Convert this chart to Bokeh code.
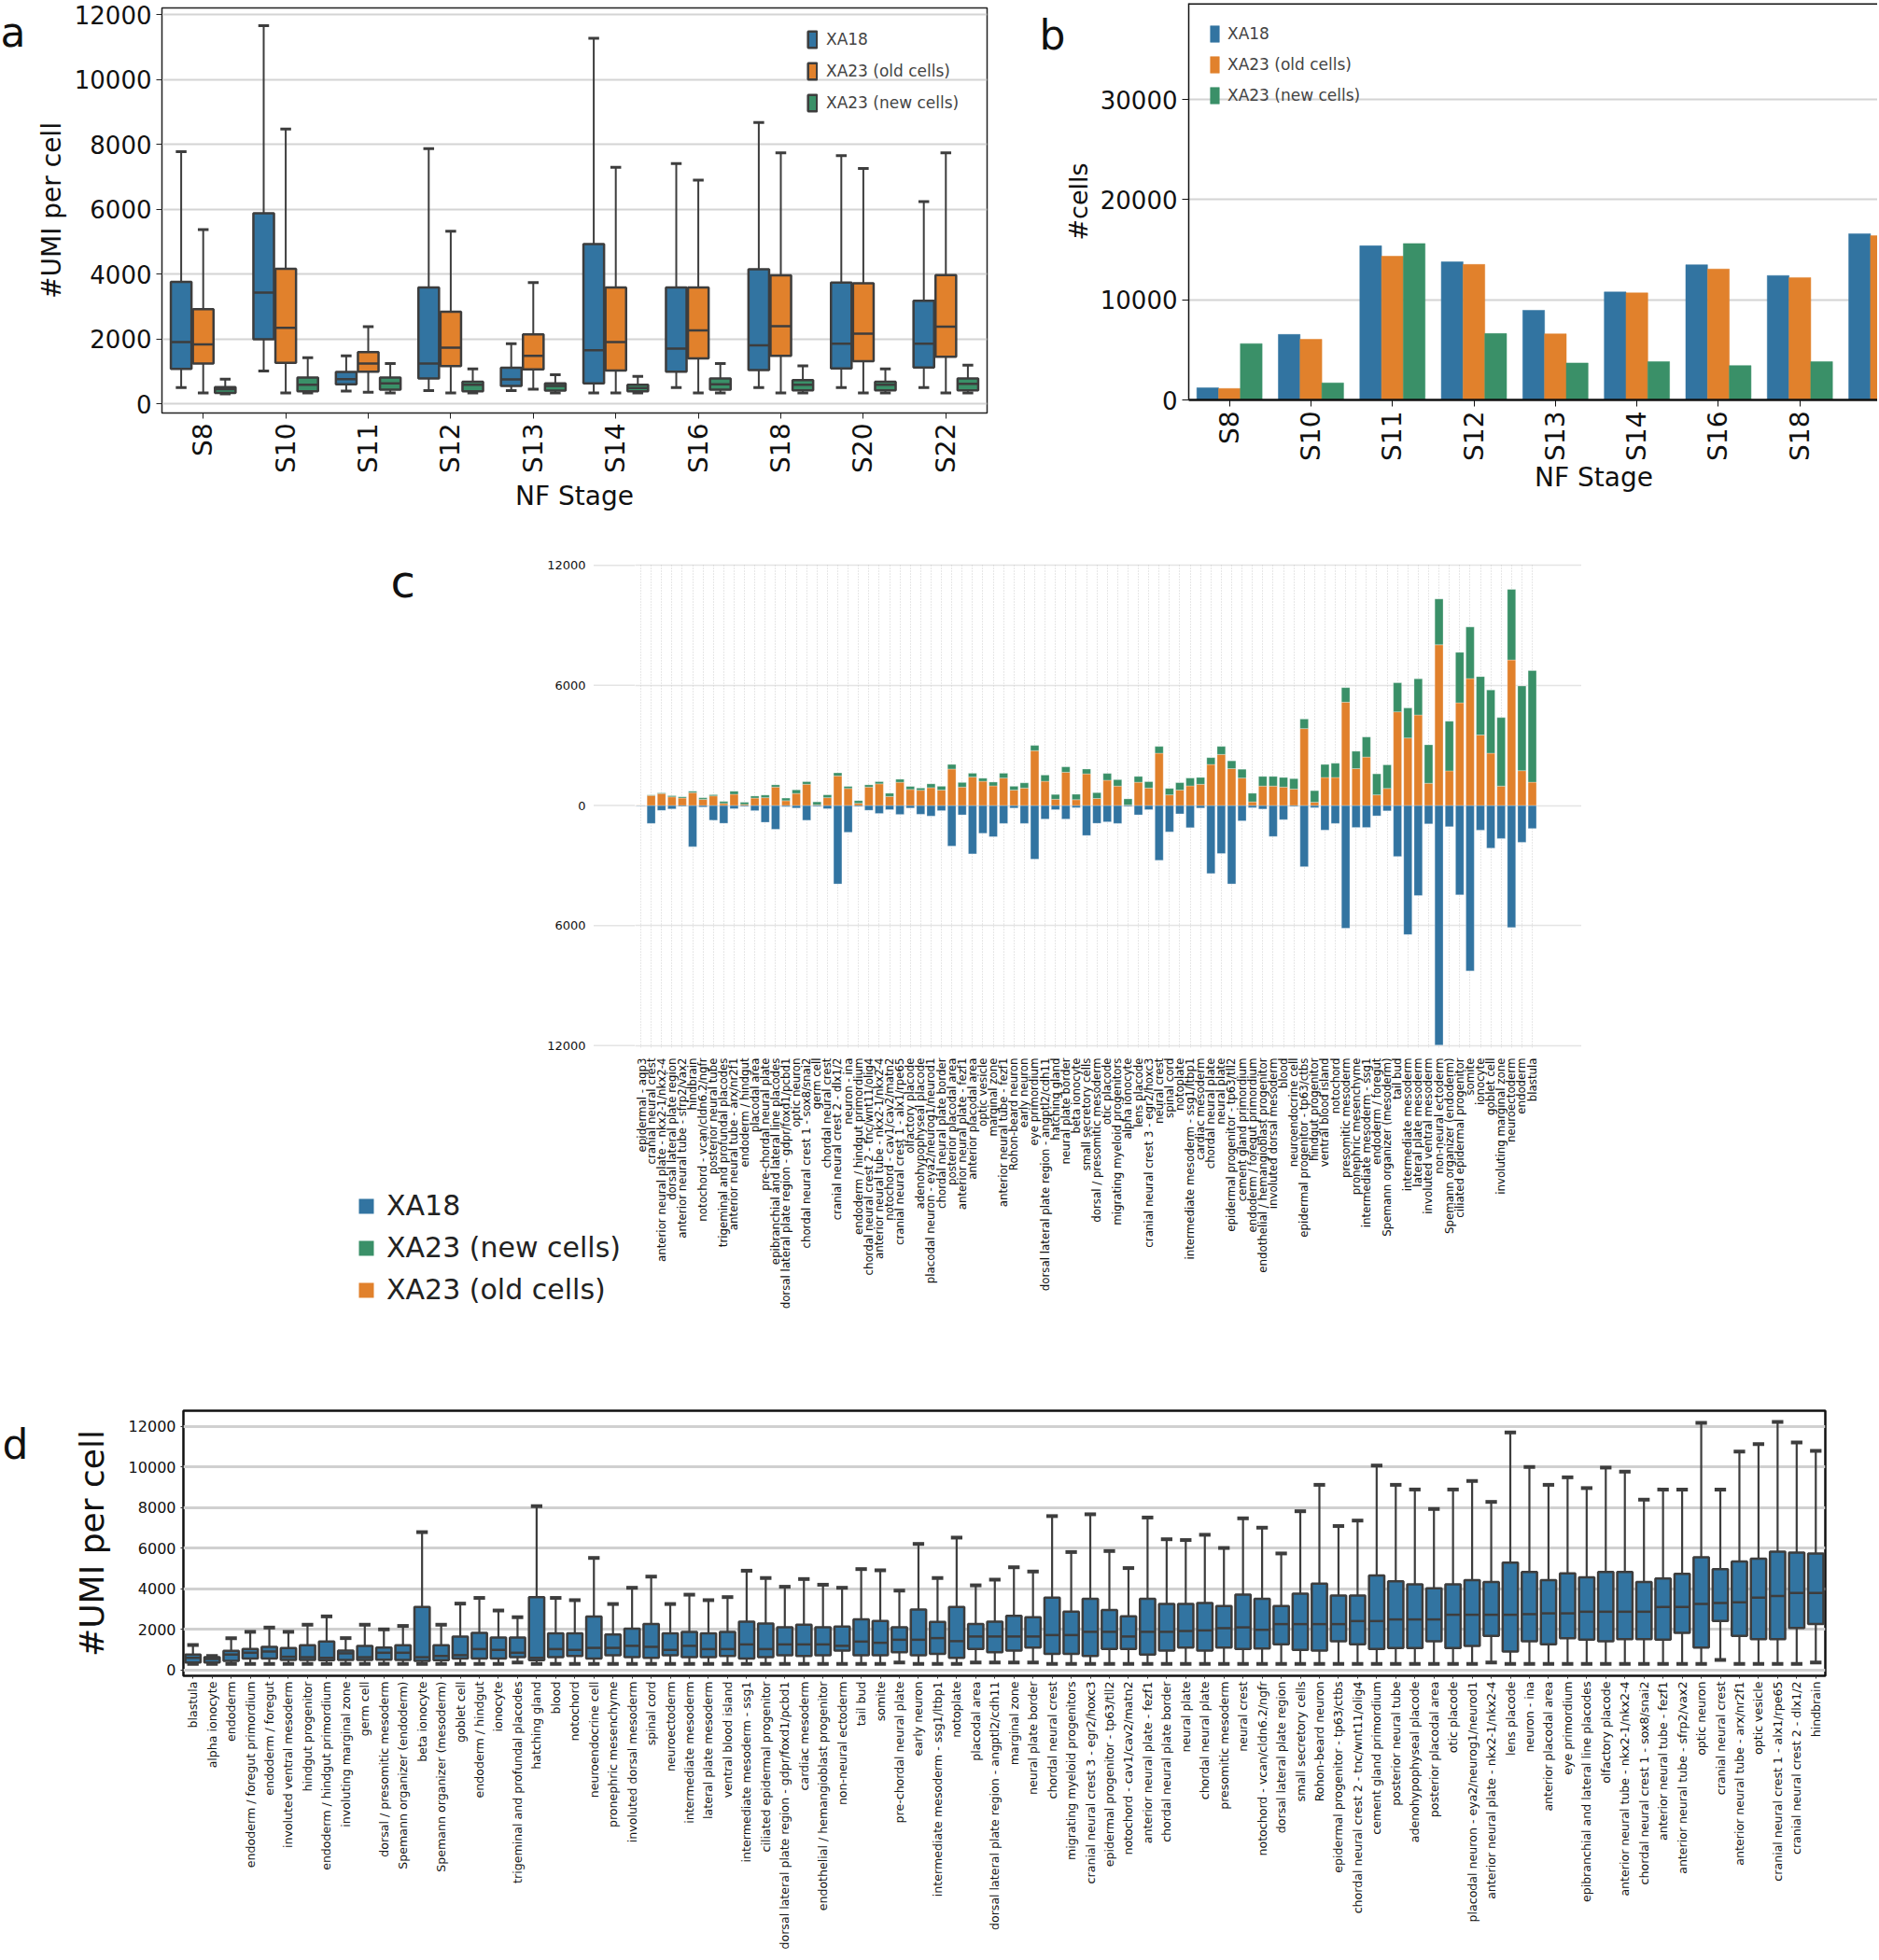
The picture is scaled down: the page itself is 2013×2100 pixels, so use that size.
import math
from bokeh.plotting import figure
from bokeh.models import FixedTicker, Legend, LegendItem, Label, Range1d
from bokeh.core.properties import value
from bokeh.layouts import column, row
from bokeh.embed import file_html
from bokeh.resources import INLINE

BLUE = "#3274a1"
ORANGE = "#e1812c"
GREEN = "#3a9068"
EDGE = "#3d3d3d"
FONT = "DejaVu Sans"

# ---------------- panel a : #UMI per cell by NF stage (box stats) ----------------
stages = ["S8", "S10", "S11", "S12", "S13", "S14", "S16", "S18", "S20", "S22"]
# each entry: (whisker_low, q1, median, q3, whisker_high)
a_xa18 = [(500, 1070, 1900, 3760, 7780), (1010, 1990, 3430, 5880, 11670), (390, 600, 760, 980, 1480),
          (400, 780, 1240, 3590, 7870), (400, 550, 750, 1110, 1850), (330, 630, 1650, 4930, 11280),
          (500, 990, 1700, 3590, 7410), (500, 1040, 1800, 4150, 8680), (500, 1090, 1850, 3740, 7660),
          (500, 1120, 1850, 3180, 6240)]
a_xa23_old = [(330, 1240, 1830, 2920, 5370), (330, 1260, 2340, 4160, 8480), (350, 990, 1240, 1590, 2380),
              (330, 1160, 1730, 2840, 5320), (450, 1060, 1480, 2140, 3740), (330, 1020, 1900, 3590, 7300),
              (330, 1400, 2260, 3590, 6900), (330, 1480, 2390, 3960, 7740), (330, 1310, 2160, 3720, 7260),
              (330, 1450, 2380, 3970, 7740)]
a_xa23_new = [(300, 330, 450, 510, 760), (330, 380, 580, 810, 1420), (330, 430, 630, 810, 1240),
              (330, 380, 580, 680, 1070), (330, 400, 550, 630, 890), (330, 380, 480, 580, 840),
              (330, 430, 600, 780, 1240), (330, 410, 580, 730, 1170), (330, 410, 580, 680, 1070),
              (330, 410, 610, 780, 1190)]

# ---------------- panel b : #cells by NF stage ----------------
b_stages = ["S8", "S10", "S11", "S12", "S13", "S14", "S16", "S18", "S20"]
b_xa18 = [1210, 6540, 15390, 13790, 8950, 10780, 13500, 12420, 16600]
b_xa23_old = [1140, 6050, 14350, 13530, 6600, 10690, 13070, 12220, 16400]
b_xa23_new = [5620, 1700, 15620, 6630, 3690, 3820, 3430, 3820, 3600]

# ---------------- panel c : cells per cell type ----------------
c_types = ["epidermal - aqp3", "cranial neural crest", "anterior neural plate - nkx2-1/nkx2-4",
           "dorsal lateral plate region", "anterior neural tube - sfrp2/vax2", "hindbrain",
           "notochord - vcan/cldn6.2/ngfr", "posterior neural tube", "trigeminal and profundal placodes",
           "anterior neural tube - arx/nr2f1", "endoderm / hindgut", "placodal area",
           "pre-chordal neural plate", "epibranchial and lateral line placodes",
           "dorsal lateral plate region - gdpr/foxd1/pcbd1", "optic neuron",
           "chordal neural crest 1 - sox8/snai2", "germ cell", "chordal neural crest",
           "cranial neural crest 2 - dlx1/2", "neuron - ina", "endoderm / hindgut primordium",
           "chordal neural crest 2 - tnc/wnt11/olig4", "anterior neural tube - nkx2-1/nkx2-4",
           "notochord - cav1/cav2/matn2", "cranial neural crest 1 - alx1/rpe65", "olfactory placode",
           "adenohypophyseal placode", "placodal neuron - eya2/neurog1/neurod1",
           "chordal neural plate border", "posterior placodal area", "anterior neural plate - fezf1",
           "anterior placodal area", "optic vesicle", "marginal zone", "anterior neural tube - fezf1",
           "Rohon-beard neuron", "early neuron", "eye primordium",
           "dorsal lateral plate region - angptl2/cdh11", "hatching gland", "neural plate border",
           "beta ionocyte", "small secretory cells", "dorsal / presomitic mesoderm", "otic placode",
           "migrating myeloid progenitors", "alpha ionocyte", "lens placode",
           "cranial neural crest 3 - egr2/hoxc3", "neural crest", "spinal cord", "notoplate",
           "intermediate mesoderm - ssg1/ltbp1", "cardiac mesoderm", "chordal neural plate",
           "neural plate", "epidermal progenitor - tp63/tll2", "cement gland primordium",
           "endoderm / foregut primordium", "endothelial / hemangioblast progenitor",
           "involuted dorsal mesoderm", "blood", "neuroendocrine cell",
           "epidermal progenitor - tp63/ctbs", "hindgut progenitor", "ventral blood island",
           "notochord", "presomitic mesoderm", "pronephric mesenchyme",
           "intermediate mesoderm - ssg1", "endoderm / foregut", "Spemann organizer (mesoderm)",
           "tail bud", "intermediate mesoderm", "lateral plate mesoderm",
           "involuted ventral mesoderm", "non-neural ectoderm", "Spemann organizer (endoderm)",
           "ciliated epidermal progenitor", "somite", "ionocyte", "goblet cell",
           "involuting marginal zone", "neuroectoderm", "endoderm", "blastula"]
c_xa18 = [20, 900, 250, 170, 50, 2060, 80, 740, 890, 160, 50, 260, 840, 1190, 60, 130, 740, 50, 160,
          3920, 1340, 50, 240, 400, 210, 450, 130, 440, 530, 260, 2030, 470, 2420, 1390, 1560, 900,
          130, 900, 2680, 680, 210, 680, 110, 1500, 890, 820, 900, 50, 470, 210, 2740, 1320, 420,
          1110, 130, 3400, 2400, 3920, 770, 110, 180, 1550, 710, 50, 3060, 110, 1230, 900, 6130,
          1100, 1100, 520, 270, 2550, 6450, 4500, 920, 11970, 1060, 4470, 8270, 1230, 2130, 1650,
          6100, 1840, 1150]
c_xa23_old = [10, 500, 600, 430, 370, 640, 300, 480, 100, 560, 50, 370, 390, 920, 240, 600, 1060, 30,
              390, 1480, 850, 110, 920, 1080, 450, 1160, 800, 760, 890, 770, 1820, 920, 1420, 1210,
              980, 1370, 770, 870, 2740, 1210, 310, 1660, 290, 1580, 350, 1260, 970, 20, 1160, 870,
              2610, 530, 770, 980, 1060, 2050, 2550, 1840, 1370, 180, 970, 970, 920, 820, 3840, 160,
              1400, 1400, 5160, 1840, 2420, 530, 850, 4680, 3370, 4520, 1110, 8030, 1730, 5130, 6340,
              3520, 2610, 970, 7270, 1740, 1160]
c_xa23_new = [5, 30, 30, 60, 60, 70, 80, 60, 100, 150, 110, 100, 130, 110, 130, 180, 130, 150, 140,
              150, 100, 130, 110, 110, 160, 150, 150, 110, 190, 190, 230, 230, 190, 150, 190, 240,
              190, 260, 260, 310, 240, 270, 270, 240, 290, 340, 320, 310, 290, 320, 340, 320, 370,
              390, 340, 340, 400, 390, 440, 430, 480, 480, 480, 520, 480, 580, 650, 710, 730, 870,
              1000, 1050, 1180, 1450, 1500, 1810, 1920, 2290, 2480, 2520, 2580, 2920, 3160, 3420,
              3530, 4230, 5580]
c_ticks = [12000, 6000, 0, -6000, -12000]
c_tick_labels = ["12000", "6000", "0", "6000", "12000"]

# ---------------- panel d : #UMI per cell by cell type (box stats) ----------------
d_types = ["blastula", "alpha ionocyte", "endoderm", "endoderm / foregut primordium",
           "endoderm / foregut", "involuted ventral mesoderm", "hindgut progenitor",
           "endoderm / hindgut primordium", "involuting marginal zone", "germ cell",
           "dorsal / presomitic mesoderm", "Spemann organizer (endoderm)", "beta ionocyte",
           "Spemann organizer (mesoderm)", "goblet cell", "endoderm / hindgut", "ionocyte",
           "trigeminal and profundal placodes", "hatching gland", "blood", "notochord",
           "neuroendocrine cell", "pronephric mesenchyme", "involuted dorsal mesoderm", "spinal cord",
           "neuroectoderm", "intermediate mesoderm", "lateral plate mesoderm", "ventral blood island",
           "intermediate mesoderm - ssg1", "ciliated epidermal progenitor",
           "dorsal lateral plate region - gdpr/foxd1/pcbd1", "cardiac mesoderm",
           "endothelial / hemangioblast progenitor", "non-neural ectoderm", "tail bud", "somite",
           "pre-chordal neural plate", "early neuron", "intermediate mesoderm - ssg1/ltbp1",
           "notoplate", "placodal area", "dorsal lateral plate region - angptl2/cdh11",
           "marginal zone", "neural plate border", "chordal neural crest",
           "migrating myeloid progenitors", "cranial neural crest 3 - egr2/hoxc3",
           "epidermal progenitor - tp63/tll2", "notochord - cav1/cav2/matn2",
           "anterior neural plate - fezf1", "chordal neural plate border", "neural plate",
           "chordal neural plate", "presomitic mesoderm", "neural crest",
           "notochord - vcan/cldn6.2/ngfr", "dorsal lateral plate region", "small secretory cells",
           "Rohon-beard neuron", "epidermal progenitor - tp63/ctbs",
           "chordal neural crest 2 - tnc/wnt11/olig4", "cement gland primordium",
           "posterior neural tube", "adenohypophyseal placode", "posterior placodal area",
           "otic placode", "placodal neuron - eya2/neurog1/neurod1",
           "anterior neural plate - nkx2-1/nkx2-4", "lens placode", "neuron - ina",
           "anterior placodal area", "eye primordium", "epibranchial and lateral line placodes",
           "olfactory placode", "anterior neural tube - nkx2-1/nkx2-4",
           "chordal neural crest 1 - sox8/snai2", "anterior neural tube - fezf1",
           "anterior neural tube - sfrp2/vax2", "optic neuron", "cranial neural crest",
           "anterior neural tube - arx/nr2f1", "optic vesicle", "cranial neural crest 1 - alx1/rpe65",
           "cranial neural crest 2 - dlx1/2", "hindbrain"]
d_high = [1240, 700, 1580, 1890, 2100, 1890, 2240, 2650, 1580, 2240, 2010, 2180, 6800, 2240, 3280,
          3560, 2940, 2610, 8080, 3560, 3450, 5530, 3260, 4060, 4610, 3260, 3720, 3450, 3600, 4900,
          4540, 4110, 4490, 4210, 4060, 4980, 4920, 3920, 6220, 4540, 6530, 4180, 4460, 5070, 4860,
          7590, 5820, 7680, 5870, 5030, 7520, 6450, 6410, 6670, 6020, 7480, 7020, 5750, 7830, 9130,
          7100, 7370, 10080, 9130, 8900, 7940, 8900, 9320, 8290, 11710, 10010, 9130, 9500, 8970,
          9980, 9780, 8400, 8900, 8900, 12180, 8900, 10770, 11140, 12230, 11220, 10800]
d_q3 = [770, 640, 950, 1040, 1150, 1090, 1230, 1410, 970, 1200, 1120, 1230, 3110, 1230, 1660, 1840,
        1610, 1610, 3600, 1810, 1810, 2640, 1760, 2050, 2270, 1810, 1890, 1810, 1890, 2390, 2300,
        2110, 2240, 2110, 2150, 2500, 2420, 2110, 2990, 2380, 3110, 2270, 2390, 2680, 2610, 3570,
        2880, 3520, 2960, 2650, 3520, 3260, 3260, 3310, 3160, 3720, 3520, 3160, 3770, 4260, 3680,
        3680, 4670, 4380, 4230, 4030, 4230, 4440, 4340, 5300, 4840, 4440, 4770, 4570, 4840, 4840,
        4340, 4520, 4750, 5560, 4980, 5360, 5490, 5840, 5790, 5750]
d_median = [610, 550, 770, 860, 920, 660, 640, 610, 830, 640, 860, 860, 640, 700, 740, 1040, 1000,
            860, 610, 1040, 1000, 1100, 1100, 1200, 1150, 1000, 1200, 1040, 1040, 1270, 1040, 1270,
            1270, 1270, 1200, 1410, 1350, 1500, 1500, 1580, 1430, 1660, 1660, 1660, 1660, 1730,
            1730, 1890, 1890, 1660, 1890, 1890, 1930, 1960, 2070, 2110, 1990, 2270, 2270, 2270,
            2270, 2420, 2420, 2500, 2500, 2500, 2730, 2730, 2730, 2730, 2760, 2800, 2800, 2880,
            2880, 2880, 2880, 3110, 3110, 3260, 3310, 3340, 3570, 3650, 3800, 3800]
d_q1 = [380, 380, 460, 580, 580, 510, 510, 490, 510, 510, 520, 510, 460, 490, 580, 580, 580, 640, 490,
        640, 700, 580, 740, 640, 610, 740, 640, 640, 700, 580, 640, 740, 700, 740, 970, 740, 740,
        890, 740, 810, 610, 1040, 890, 970, 1120, 810, 810, 700, 1040, 1040, 770, 970, 1120, 970,
        1120, 1040, 1070, 1270, 1000, 970, 1430, 1270, 1040, 1090, 1090, 1430, 1090, 1200, 1690,
        920, 1430, 1270, 1580, 1500, 1430, 1530, 1530, 1500, 1840, 1120, 2420, 1690, 1530, 1530,
        2080, 2270]
d_low = [310, 310, 310, 310, 310, 310, 310, 310, 310, 310, 310, 310, 310, 310, 310, 310, 310, 380,
         310, 310, 310, 310, 310, 310, 310, 310, 310, 310, 310, 310, 310, 310, 310, 310, 310, 310,
         310, 380, 310, 310, 310, 380, 380, 380, 380, 310, 310, 310, 310, 310, 310, 310, 310, 310,
         310, 310, 310, 310, 310, 310, 310, 310, 310, 310, 310, 310, 310, 310, 380, 310, 310, 310,
         310, 310, 310, 310, 310, 310, 310, 310, 510, 310, 310, 310, 310, 380]

assert len(c_types) == len(c_xa18) == len(c_xa23_old) == len(c_xa23_new)
assert len(d_types) == len(d_high) == len(d_q3) == len(d_median) == len(d_q1) == len(d_low)


def style_common(p):
    p.background_fill_color = "white"
    p.border_fill_color = "white"
    for ax in p.axis:
        ax.major_label_text_font = FONT
        ax.axis_label_text_font = FONT
        ax.axis_label_text_font_style = "normal"
        ax.minor_tick_line_color = None
        ax.major_label_text_color = "#111111"
        ax.axis_label_text_color = "#111111"


def side_label(p, text, x, y, side="left", size="44px", align="left"):
    # a label living in a side panel (not clipped by the plot frame)
    p.add_layout(Label(x=x, y=y, x_units="screen", y_units="screen", text=text,
                       text_font=FONT, text_font_size=size, text_color="#111111",
                       text_align=align, text_baseline="alphabetic"), side)


ROW1_H = 568

# =============================== panel a ===============================
fa = figure(width=1078, height=ROW1_H, x_range=Range1d(-0.5, 9.5), y_range=Range1d(-288, 12216),
            output_backend="svg", toolbar_location=None,
            min_border_left=173, min_border_right=21, min_border_top=8, min_border_bottom=ROW1_H - 442)
style_common(fa)
fa.xgrid.grid_line_color = None
fa.ygrid.grid_line_color = "#d4d4d4"
fa.ygrid.grid_line_width = 2
fa.outline_line_color = "#222222"
fa.outline_line_width = 1.5
fa.yaxis.ticker = FixedTicker(ticks=list(range(0, 12001, 2000)))
fa.yaxis.major_label_text_font_size = "26px"
fa.yaxis.axis_label = "#UMI per cell"
fa.yaxis.axis_label_text_font_size = "28px"
fa.xaxis.ticker = FixedTicker(ticks=list(range(len(stages))))
fa.xaxis.major_label_overrides = {i: s for i, s in enumerate(stages)}
fa.xaxis.major_label_orientation = math.pi / 2
fa.xaxis.major_label_text_font_size = "28px"
fa.xaxis.axis_label = "NF Stage"
fa.xaxis.axis_label_text_font_size = "28px"
for ax in fa.axis:
    ax.major_tick_out = 6
    ax.major_tick_in = 0
    ax.axis_line_color = "#222222"
    ax.major_tick_line_color = "#222222"

box_w = 0.25
a_items = []
for series, color, off, name in [(a_xa18, BLUE, -0.267, "XA18"),
                                 (a_xa23_old, ORANGE, 0.0, "XA23 (old cells)"),
                                 (a_xa23_new, GREEN, 0.267, "XA23 (new cells)")]:
    xs = [i + off for i in range(len(stages))]
    low = [s[0] for s in series]
    q1 = [s[1] for s in series]
    med = [s[2] for s in series]
    q3 = [s[3] for s in series]
    high = [s[4] for s in series]
    fa.segment(x0=xs, y0=q3, x1=xs, y1=high, line_color=EDGE, line_width=2)
    fa.segment(x0=xs, y0=q1, x1=xs, y1=low, line_color=EDGE, line_width=2)
    r = fa.vbar(x=xs, bottom=q1, top=q3, width=box_w, fill_color=color, line_color=EDGE, line_width=2.5)
    fa.segment(x0=[x - box_w / 2 for x in xs], y0=med, x1=[x + box_w / 2 for x in xs], y1=med,
               line_color=EDGE, line_width=2.5)
    fa.segment(x0=[x - 0.065 for x in xs], y0=high, x1=[x + 0.065 for x in xs], y1=high,
               line_color=EDGE, line_width=3)
    fa.segment(x0=[x - 0.065 for x in xs], y0=low, x1=[x + 0.065 for x in xs], y1=low,
               line_color=EDGE, line_width=3)
    a_items.append(LegendItem(label=name, renderers=[r]))

leg_a = Legend(items=a_items, location=(691, 321), background_fill_alpha=0, border_line_color=None,
               padding=0, margin=0, spacing=12, glyph_width=12, glyph_height=22, label_height=22,
               label_standoff=9, label_text_font=FONT, label_text_font_size="17px")
fa.add_layout(leg_a)
side_label(fa, "a", -8, 408)

# =============================== panel b ===============================
B_RIGHT = 2011
fb = figure(width=B_RIGHT - 1078, height=ROW1_H, x_range=Range1d(-0.5, (B_RIGHT - 1273) / 87.3 - 0.5),
            y_range=Range1d(0, 39610), output_backend="svg", toolbar_location=None,
            min_border_left=195, min_border_right=0, min_border_top=3, min_border_bottom=ROW1_H - 428)
style_common(fb)
fb.outline_line_color = None
fb.xgrid.grid_line_color = None
fb.ygrid.grid_line_color = "#d4d4d4"
fb.ygrid.grid_line_width = 2
fb.yaxis.ticker = FixedTicker(ticks=[0, 10000, 20000, 30000])
fb.yaxis.major_label_text_font_size = "26px"
fb.yaxis.axis_label = "#cells"
fb.yaxis.axis_label_text_font_size = "27px"
fb.xaxis.ticker = FixedTicker(ticks=list(range(len(b_stages))))
fb.xaxis.major_label_overrides = {i: s for i, s in enumerate(b_stages)}
fb.xaxis.major_label_orientation = math.pi / 2
fb.xaxis.major_label_text_font_size = "28px"
fb.xaxis.axis_line_width = 2.5
for ax in fb.axis:
    ax.major_tick_out = 7
    ax.major_tick_in = 0
    ax.axis_line_color = "#111111"
    ax.major_tick_line_color = "#111111"
fb.yaxis.axis_line_width = 1.5

b_items = []
for vals, color, off, name in [(b_xa18, BLUE, -0.267, "XA18"),
                               (b_xa23_old, ORANGE, 0.0, "XA23 (old cells)"),
                               (b_xa23_new, GREEN, 0.267, "XA23 (new cells)")]:
    xs = [i + off for i in range(len(b_stages))]
    r = fb.vbar(x=xs, top=vals, bottom=0, width=0.267, fill_color=color, line_color=color, line_width=0.5)
    b_items.append(LegendItem(label=name, renderers=[r]))
fb.segment(x0=[-0.5], y0=[39610], x1=[9.0], y1=[39610], line_color="#111111", line_width=3)

leg_b = Legend(items=b_items, location=(22, 315), background_fill_alpha=0, border_line_color=None,
               padding=0, margin=0, spacing=11, glyph_width=12, glyph_height=22, label_height=22,
               label_standoff=8, label_text_font=FONT, label_text_font_size="17px")
fb.add_layout(leg_b)
side_label(fb, "NF Stage", 434, 18, side="below", size="28px", align="center")
side_label(fb, "b", 5, 391)

# =============================== panel c ===============================
ROW2_TOP = ROW1_H
ROW2_H = 902
LEG_W = 680
C_TOP, C_BOTTOM, C_RIGHT = 603, 1122, 1694
C_FIRST = 686.0      # page x of the first category
C_STEP = 11.105      # px per category
nc = len(c_types)
c_units_per_px = 24200 / (C_BOTTOM - C_TOP)

# left strip of panel c: letter, legend and the value axis labels (same vertical scale as panel c)
fleg = figure(width=LEG_W, height=ROW2_H, x_range=Range1d(0, LEG_W),
              y_range=Range1d(-12100 - (ROW2_TOP + ROW2_H - C_BOTTOM) * c_units_per_px,
                              12100 + (C_TOP - ROW2_TOP) * c_units_per_px),
              output_backend="svg", toolbar_location=None, x_axis_location=None, y_axis_location=None,
              min_border_left=0, min_border_right=0, min_border_top=0, min_border_bottom=0)
fleg.outline_line_color = None
fleg.xgrid.grid_line_color = None
fleg.ygrid.grid_line_color = None
fleg.background_fill_color = "white"
fleg.border_fill_color = "white"
fleg.segment(x0=[636] * len(c_ticks), y0=c_ticks, x1=[LEG_W] * len(c_ticks), y1=c_ticks,
             line_color="#c8c8c8", line_dash="1 1", line_width=1.5)
fleg.text(x=[627] * len(c_ticks), y=c_ticks, text=c_tick_labels, text_align="right",
          text_baseline="middle", text_font=value(FONT), text_font_size="13px", text_color="#111111")
# legend swatches: zero-height bars far outside the visible window
leg_r = [fleg.vbar(x=[-1000], top=[0], bottom=[0], width=1, fill_color=col, line_color=None)
         for col in (BLUE, GREEN, ORANGE)]
leg_c = Legend(items=[LegendItem(label="XA18", renderers=[leg_r[0]]),
                      LegendItem(label="XA23 (new cells)", renderers=[leg_r[1]]),
                      LegendItem(label="XA23 (old cells)", renderers=[leg_r[2]])],
               location=(382, ROW2_TOP + ROW2_H - 1399), background_fill_alpha=0, border_line_color=None,
               padding=0, margin=0, spacing=10, glyph_width=20, glyph_height=20, label_height=34,
               label_standoff=12, label_text_font=FONT, label_text_font_size="30px",
               label_text_color="#222222")
fleg.add_layout(leg_c)
fleg.add_layout(Label(x=418, y=ROW2_TOP + ROW2_H - 622, x_units="screen", y_units="screen", text="c",
                      text_font=FONT, text_font_size="48px", text_color="#111111",
                      text_baseline="alphabetic"))

fc = figure(width=2013 - LEG_W, height=ROW2_H,
            x_range=Range1d((LEG_W - C_FIRST) / C_STEP, (C_RIGHT - C_FIRST) / C_STEP),
            y_range=Range1d(-12100, 12100), output_backend="svg", toolbar_location=None,
            y_axis_location=None,
            min_border_left=0, min_border_right=2013 - C_RIGHT,
            min_border_top=C_TOP - ROW2_TOP, min_border_bottom=ROW2_TOP + ROW2_H - C_BOTTOM)
style_common(fc)
fc.outline_line_color = None
fc.xgrid.ticker = FixedTicker(ticks=list(range(nc)))
fc.xgrid.grid_line_color = "#cfcfcf"
fc.xgrid.grid_line_dash = "1 2"
fc.xgrid.grid_line_width = 1
fc.ygrid.ticker = FixedTicker(ticks=c_ticks)
fc.ygrid.grid_line_color = "#c8c8c8"
fc.ygrid.grid_line_dash = "1 1"
fc.ygrid.grid_line_width = 1.5
fc.xaxis.ticker = FixedTicker(ticks=list(range(nc)))
fc.xaxis.major_label_overrides = {i: s for i, s in enumerate(c_types)}
fc.xaxis.major_label_orientation = math.pi / 2
fc.xaxis.major_label_text_font_size = "11.8px"
fc.xaxis.major_label_standoff = 5
fc.xaxis.axis_line_color = None
fc.xaxis.major_tick_line_color = None

xc = list(range(nc))
neg18 = [-v for v in c_xa18]
stack_top = [o + n for o, n in zip(c_xa23_old, c_xa23_new)]
fc.vbar(x=xc, top=0, bottom=neg18, width=0.8, fill_color=BLUE, line_color="white", line_width=0.3)
fc.vbar(x=xc, bottom=0, top=c_xa23_old, width=0.8, fill_color=ORANGE, line_color="white", line_width=0.3)
fc.vbar(x=xc, bottom=c_xa23_old, top=stack_top, width=0.8, fill_color=GREEN, line_color="white", line_width=0.3)

# =============================== panel d ===============================
ROW3_TOP = ROW2_TOP + ROW2_H
ROW3_H = 2096 - ROW3_TOP
nd = len(d_types)
fd = figure(width=2011, height=ROW3_H, x_range=Range1d(-0.5, nd - 0.5), y_range=Range1d(-276, 12780),
            output_backend="svg", toolbar_location=None,
            min_border_left=196, min_border_right=2011 - 1955, min_border_top=1511 - ROW3_TOP,
            min_border_bottom=ROW3_TOP + ROW3_H - 1795)
style_common(fd)
fd.outline_line_color = "#111111"
fd.outline_line_width = 2.5
fd.xgrid.grid_line_color = None
fd.ygrid.grid_line_color = "#d0d0d0"
fd.ygrid.grid_line_width = 3
fd.yaxis.ticker = FixedTicker(ticks=list(range(0, 12001, 2000)))
fd.yaxis.major_label_text_font_size = "16px"
fd.yaxis.axis_label = "#UMI per cell"
fd.yaxis.axis_label_text_font_size = "36px"
fd.yaxis.axis_label_standoff = 16
fd.xaxis.ticker = FixedTicker(ticks=list(range(nd)))
fd.xaxis.major_label_overrides = {i: s for i, s in enumerate(d_types)}
fd.xaxis.major_label_orientation = math.pi / 2
fd.xaxis.major_label_text_font_size = "12.6px"
fd.xaxis.major_label_standoff = 3
for ax in fd.axis:
    ax.axis_line_color = None
    ax.major_tick_out = 3
    ax.major_tick_in = 0
    ax.major_tick_line_color = "#333333"

xd = list(range(nd))
fd.segment(x0=xd, y0=d_q3, x1=xd, y1=d_high, line_color=EDGE, line_width=2.2)
fd.segment(x0=xd, y0=d_q1, x1=xd, y1=d_low, line_color=EDGE, line_width=2.2)
fd.vbar(x=xd, bottom=d_q1, top=d_q3, width=0.8, fill_color=BLUE, line_color=EDGE, line_width=2.5)
fd.segment(x0=[x - 0.4 for x in xd], y0=d_median, x1=[x + 0.4 for x in xd], y1=d_median,
           line_color=EDGE, line_width=2.5)
fd.segment(x0=[x - 0.3 for x in xd], y0=d_high, x1=[x + 0.3 for x in xd], y1=d_high,
           line_color=EDGE, line_width=4)
fd.segment(x0=[x - 0.3 for x in xd], y0=d_low, x1=[x + 0.3 for x in xd], y1=d_low,
           line_color=EDGE, line_width=4)
side_label(fd, "d", -44, 248)

layout = column(row(column(fa), column(fb), spacing=0),
                row(column(fleg), column(fc), spacing=0),
                row(fd), spacing=0)
open("out.html", "w").write(file_html(layout, INLINE))
